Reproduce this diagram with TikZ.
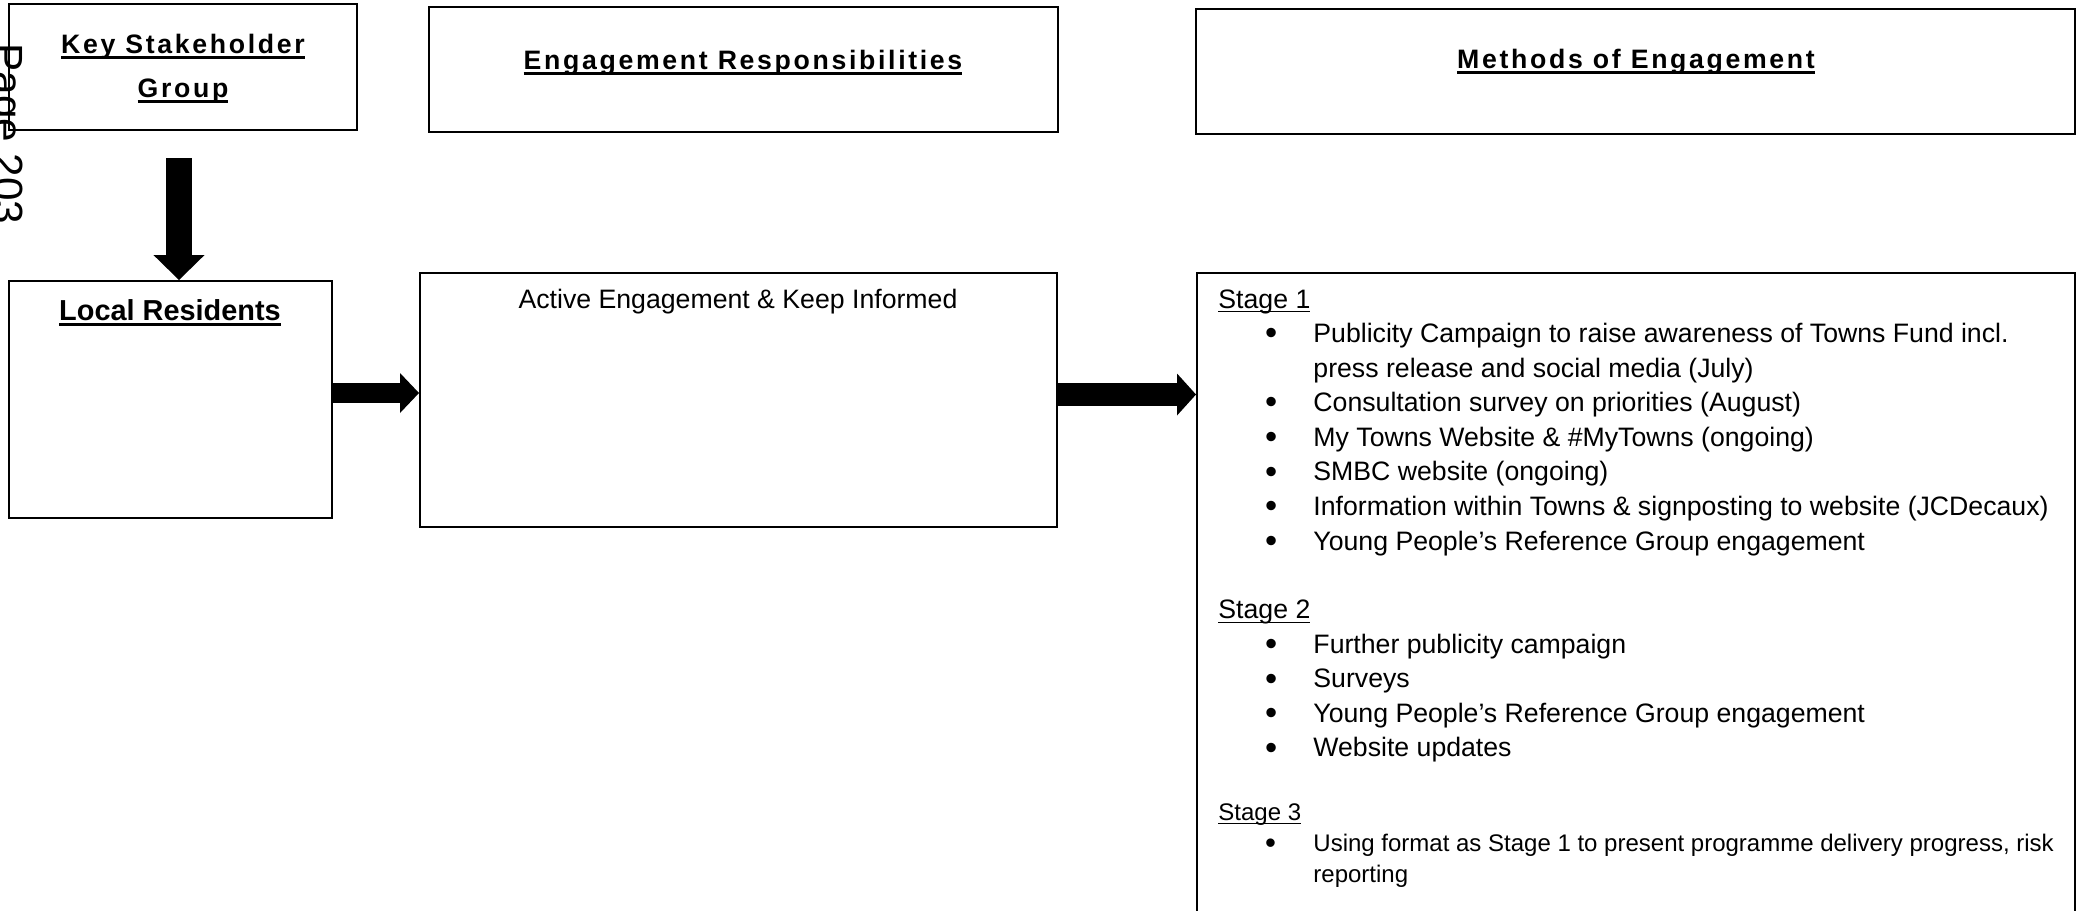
\documentclass[tikz,border=0pt]{standalone}
\usepackage{fontspec}
\setmainfont{Liberation Sans}
\newfontfamily\spacedfont[LetterSpace=10]{Liberation Sans}
\usetikzlibrary{arrows.meta, fit}
\newcommand{\ulbox}[3]{\leavevmode\setbox0\hbox{#3}\rlap{\rule[#1]{\wd0}{#2}}\box0}
\newcommand{\hdline}[1]{\ulbox{-2.5pt}{1.1pt}{#1}}
\newcommand{\stline}[1]{\noindent\ulbox{-1.9pt}{0.5pt}{#1}\par}
\newcommand{\bul}[1]{\noindent\makebox[42.75pt][l]{\hspace{21pt}\raisebox{-1pt}{\scalebox{1.3}{\textbullet}}}#1\par}
\newcommand{\cont}[1]{\noindent\hspace*{42.75pt}#1\par}
\tikzset{
  frame/.style={draw, line width=0.9pt, inner sep=0pt},
  hd/.style={font=\spacedfont\bfseries\fontsize{12pt}{19.8pt}\selectfont, align=center, inner sep=0pt},
  group/.style={font=\bfseries\fontsize{13pt}{16pt}\selectfont, inner sep=0pt},
  body/.style={font=\fontsize{12pt}{15.56pt}\selectfont, inner sep=0pt},
  stagelist/.style={body, text width=440pt, align=left},
  pagemark/.style={font=\fontsize{19pt}{22pt}\selectfont, inner sep=0pt},
  blockarrow/.style n args={3}{line width=#1, -{Triangle[length=#2, width=#3, line width=0pt]}},
}
\begin{document}
\begin{tikzpicture}[x=0.45pt, y=-0.45pt]
  \clip[use as bounding box] (0,0) rectangle (2078,910);
  \node[frame, fit={(9,4) (357,130)}] (key) {};
  \node[frame, fit={(429,7) (1058,132)}] (resp) {};
  \node[frame, fit={(1196,9) (2075,134)}] (meth) {};
  \node[frame, fit={(9,281) (332,518)}] (local) {};
  \node[frame, fit={(420,273) (1057,527)}] (active) {};
  \node[frame, fit={(1197,273) (2075,940)}] (stages) {};
  \node[pagemark, rotate=-90, anchor=base west] (pagenum) at (-7,43) {Page 203};
  \node[hd, anchor=base] (keyT) at (183,97) {\hdline{Key Stakeholder}\\ \hdline{Group}};
  \node[hd, anchor=base] (respT) at (743,69) {\hdline{Engagement Responsibilities}};
  \node[hd, anchor=base] (methT) at (1636,68) {\hdline{Methods of Engagement}};
  \node[group, anchor=base] (localT) at (170,320) {\hdline{Local Residents}};
  \node[body, anchor=base] (activeT) at (738,308) {Active Engagement \& Keep Informed};
  \node[stagelist, anchor=base west] (stagesT) at (1218,308) {%
    \spaceskip=0pt \xspaceskip=0pt
    \stline{Stage 1}
    \bul{Publicity Campaign to raise awareness of Towns Fund incl.}
    \cont{press release and social media (July)}
    \bul{Consultation survey on priorities (August)}
    \bul{My Towns Website \& \#MyTowns (ongoing)}
    \bul{SMBC website (ongoing)}
    \bul{Information within Towns \& signposting to website (JCDecaux)}
    \bul{Young People’s Reference Group engagement}
    \vspace{15.3pt}
    \stline{Stage 2}
    \bul{Further publicity campaign}
    \bul{Surveys}
    \bul{Young People’s Reference Group engagement}
    \bul{Website updates}
    \vspace{14.4pt}
    \fontsize{10.8pt}{14pt}\selectfont
    \stline{Stage 3}
    \bul{Using format as Stage 1 to present programme delivery progress, risk}
    \cont{reporting}};
  \coordinate (downx) at (179,0);
  \coordinate (rowA) at (0,393);
  \coordinate (rowB) at (0,394.5);
  \draw[blockarrow={11.7pt}{11.25pt}{23pt}, shorten <=12.15pt] (key.south -| downx) -- (local.north -| downx);
  \draw[blockarrow={9pt}{8.55pt}{18pt}] (local.east |- rowA) -- (active.west |- rowA);
  \draw[blockarrow={10.35pt}{8.55pt}{18.9pt}] (active.east |- rowB) -- (stages.west |- rowB);
\end{tikzpicture}
\end{document}
